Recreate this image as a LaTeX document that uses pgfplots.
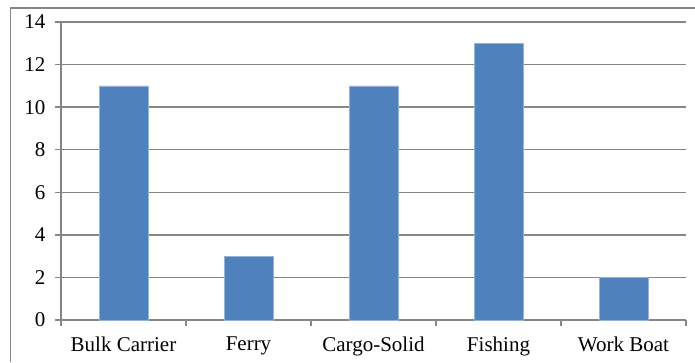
\documentclass[border=0pt]{standalone}
\usepackage{pgfplots}
\pgfplotsset{compat=1.18}
\usepackage{fontspec}
\setmainfont{Liberation Serif}
\definecolor{barblue}{HTML}{4F81BD}
\definecolor{axgray}{HTML}{868686}
\begin{document}
\begin{tikzpicture}[x=1pt,y=1pt]
\useasboundingbox (0,0) rectangle (695,362);
\draw[axgray, line width=1.5pt] (10.5,0) -- (10.5,354) -- (695,354);
\begin{axis}[
  at={(61pt,42pt)}, anchor=south west,
  scale only axis, width=625pt, height=298pt,
  xmin=-0.5, xmax=4.5, ymin=0, ymax=14,
  axis x line*=bottom, axis y line*=left,
  axis line style={axgray, line width=1.5pt, -},
  xtick={0,1,2,3,4},
  xticklabels={Bulk Carrier, Ferry, Cargo-Solid, Fishing, Work Boat},
  major x tick style={draw=none},
  minor xtick={-0.5,0.5,1.5,2.5,3.5,4.5},
  minor x tick style={axgray, line width=1.5pt},
  minor tick length=6pt,
  ytick={0,2,...,14},
  major tick length=6pt,
  tick align=outside,
  y tick style={axgray, line width=1.5pt},
  ymajorgrids, major grid style={axgray, line width=1.3pt},
  ticklabel style={font=\fontsize{21}{24}\selectfont},
  xticklabel style={yshift=-7pt},
  yticklabel style={xshift=-6pt},
  /pgf/number format/assume math mode=true,
  ybar, bar width=49pt,
]
\addplot[fill=barblue, draw=barblue!60!white, line width=0.6pt] coordinates {(0,11) (1,3) (2,11) (3,13) (4,2)};
\end{axis}
\end{tikzpicture}
\end{document}
